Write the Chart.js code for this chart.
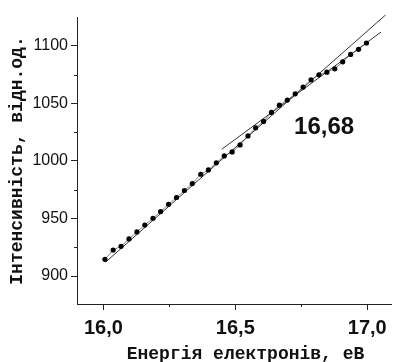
<!DOCTYPE html>
<html>
<head>
<meta charset="utf-8">
<script src="https://cdn.jsdelivr.net/npm/chart.js@4"></script>
<style>
html,body{margin:0;padding:0;background:#fff;}
#wrap{width:395px;height:362px;}
</style>
</head>
<body>
<div id="wrap"><canvas id="c" width="395" height="362"></canvas></div>
<script>
// Data
const energy = [16.006,16.037,16.067,16.097,16.127,16.157,16.188,16.217,16.247,16.277,16.307,16.337,16.369,16.398,16.428,16.458,16.488,16.518,16.548,16.577,16.607,16.637,16.667,16.697,16.727,16.757,16.787,16.817,16.847,16.877,16.907,16.937,16.967,16.997];
const intensity = [914.5,922.6,925.8,932.2,938.3,944.3,950.2,956.0,962.3,968.2,974.3,980.3,988.4,992.2,998.3,1004.3,1007.8,1013.9,1021.7,1028.7,1034.3,1042.1,1048.4,1052.8,1058.3,1064.1,1070.4,1074.8,1077.1,1080.0,1086.1,1092.5,1096.9,1102.4];
// Two fitted straight lines (end points)
const fitLowX = [16.009, 17.069];
const fitLowY = [912.2, 1126.7];
const fitHighX = [16.449, 17.052];
const fitHighY = [1010.2, 1111.9];
// Tick values
const xTicks = [16.0, 16.5, 17.0];
const xMinorTicks = [16.25, 16.75];
const yTicks = [900, 950, 1000, 1050, 1100];
const yMinorTicks = [925, 975, 1025, 1075];
// Annotation
const annotationText = "16,68";
const annotationX = 16.825;
const annotationY = 1029;
const xTitle = "Енергія електронів, еВ";
const yTitle = "Інтенсивність, відн.од.";

const pts = energy.map((e,i)=>({x:e,y:intensity[i]}));
const l1 = fitLowX.map((x,i)=>({x:x,y:fitLowY[i]}));
const l2 = fitHighX.map((x,i)=>({x:x,y:fitHighY[i]}));

const extras = {
  id:'extras',
  afterDraw(chart){
    const ctx = chart.ctx, xs = chart.scales.x, ys = chart.scales.y;
    const a = chart.chartArea;
    ctx.save();
    ctx.strokeStyle = '#222';
    ctx.lineWidth = 1;
    ctx.beginPath();
    xMinorTicks.forEach(v=>{const p=Math.round(xs.getPixelForValue(v))+0.5; ctx.moveTo(p,a.bottom); ctx.lineTo(p,a.bottom+3);});
    yMinorTicks.forEach(v=>{const p=Math.round(ys.getPixelForValue(v))+0.5; ctx.moveTo(a.left,p); ctx.lineTo(a.left-3,p);});
    ctx.stroke();
    ctx.fillStyle = '#111';
    ctx.font = 'bold 24px "Liberation Sans", Arial, sans-serif';
    ctx.textAlign = 'center';
    ctx.textBaseline = 'middle';
    ctx.fillText(annotationText, xs.getPixelForValue(annotationX)+3, ys.getPixelForValue(annotationY));
    // x axis title
    ctx.font = 'bold 18px "Liberation Mono", "Courier New", monospace';
    ctx.textBaseline = 'middle';
    ctx.fillText(xTitle, 245.5, 354);
    ctx.restore();
  }
};

new Chart(document.getElementById('c'), {
  type:'scatter',
  data:{datasets:[
    {data:pts, showLine:true, borderColor:'#666', borderWidth:0.8, pointRadius:2.6, pointBackgroundColor:'#000', pointBorderColor:'#000', pointBorderWidth:0},
    {data:l1, showLine:true, borderColor:'#333', borderWidth:1, pointRadius:0, clip:false},
    {data:l2, showLine:true, borderColor:'#333', borderWidth:1, pointRadius:0, clip:false}
  ]},
  options:{
    responsive:false, animation:false, devicePixelRatio:1,
    layout:{padding:{left:0,top:17,right:0,bottom:0}},
    plugins:{legend:{display:false}, tooltip:{enabled:false}},
    scales:{
      x:{
        type:'linear', min:15.9, max:17.09,
        afterBuildTicks(s){ s.ticks = xTicks.map(v=>({value:v})); },
        afterFit(s){ s.height = 58; },
        border:{display:true, color:'#222', width:1},
        grid:{display:true, drawOnChartArea:false, drawTicks:true, tickLength:6, color:'#222'},
        ticks:{color:'#111', padding:6, maxRotation:0, font:{family:'"Liberation Sans", Arial, sans-serif', size:20, weight:'bold'},
          callback:(v)=>Number(v).toFixed(1).replace('.',',')},
        title:{display:false}
      },
      y:{
        type:'linear', min:875.7, max:1125,
        afterBuildTicks(s){ s.ticks = yTicks.map(v=>({value:v})); },
        afterFit(s){ s.width = 77; },
        border:{display:true, color:'#222', width:1},
        grid:{display:true, drawOnChartArea:false, drawTicks:true, tickLength:6, color:'#222'},
        ticks:{color:'#111', padding:3, font:{family:'"Liberation Sans", Arial, sans-serif', size:16},
          callback:(v)=>String(v)},
        title:{display:true, text:yTitle, color:'#111', padding:{top:8.5,bottom:0},
          font:{family:'"Liberation Mono", "Courier New", monospace', size:18, weight:'bold', lineHeight:1}}
      }
    }
  },
  plugins:[extras]
});
</script>
</body>
</html>
